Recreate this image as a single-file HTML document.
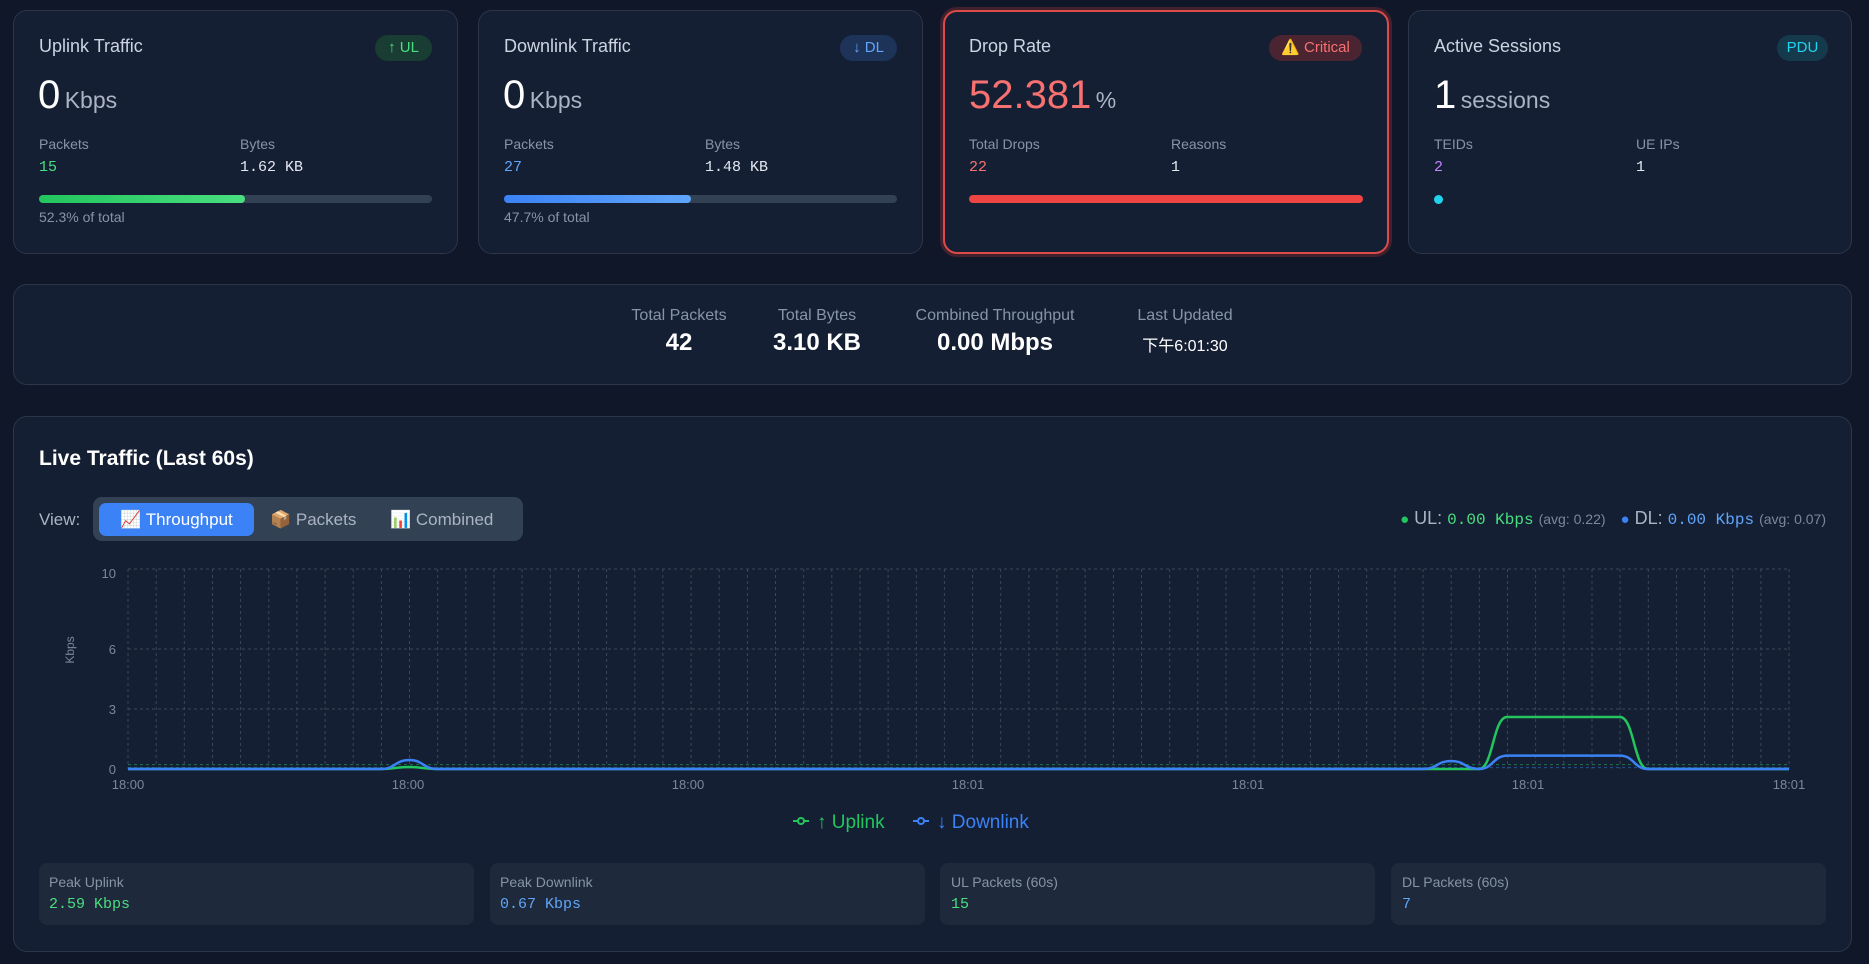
<!DOCTYPE html>
<html><head><meta charset="utf-8">
<style>
*{box-sizing:border-box;margin:0;padding:0}
body{width:1869px;height:964px;background:#0f1729;font-family:"Liberation Sans","Noto Sans CJK SC",sans-serif;color:#e2e8f0;position:relative;overflow:hidden}
.card{position:absolute;background:#151f33;border:1px solid #2b3649;border-radius:14px}
.abs{position:absolute;white-space:nowrap}
.t{font-size:18px;color:#cbd5e1}
.lbl{font-size:14px;color:#8794a8}
.mono{font-family:"Liberation Mono","DejaVu Sans Mono",monospace}
.pill{position:absolute;height:26px;border-radius:13px;font-size:15px;line-height:26px;text-align:center}
.big{font-size:40px;color:#fff;font-weight:500}
.unit{font-size:23px;color:#aab4c4}
.sb{position:absolute;top:863px;height:62px;width:435px;background:#1e293b;border-radius:8px}
</style></head><body>

<div class="card" style="left:13px;top:10px;width:445px;height:244px"></div>
<div class="abs t" style="left:39px;top:36px">Uplink Traffic</div>
<div class="pill" style="left:375px;top:35px;width:57px;background:#1a3d33;color:#4ade80">↑ UL</div>
<div class="abs" style="left:38px;top:73px"><span class="big">0</span> <span class="unit">Kbps</span></div>
<div class="abs lbl" style="left:39px;top:136px">Packets</div>
<div class="abs lbl" style="left:240px;top:136px">Bytes</div>
<div class="abs mono" style="left:39px;top:159px;font-size:15px;color:#4ade80">15</div>
<div class="abs mono" style="left:240px;top:159px;font-size:15px;color:#e2e8f0">1.62 KB</div>
<div class="abs" style="left:39px;top:195px;width:393px;height:8px;border-radius:4px;background:#334155"></div>
<div class="abs" style="left:39px;top:195px;width:206px;height:8px;border-radius:4px;background:linear-gradient(90deg,#22c55e,#4ade80)"></div>
<div class="abs lbl" style="left:39px;top:209px">52.3% of total</div>

<div class="card" style="left:478px;top:10px;width:445px;height:244px"></div>
<div class="abs t" style="left:504px;top:36px">Downlink Traffic</div>
<div class="pill" style="left:840px;top:35px;width:57px;background:#1e3358;color:#60a5fa">↓ DL</div>
<div class="abs" style="left:503px;top:73px"><span class="big">0</span> <span class="unit">Kbps</span></div>
<div class="abs lbl" style="left:504px;top:136px">Packets</div>
<div class="abs lbl" style="left:705px;top:136px">Bytes</div>
<div class="abs mono" style="left:504px;top:159px;font-size:15px;color:#60a5fa">27</div>
<div class="abs mono" style="left:705px;top:159px;font-size:15px;color:#e2e8f0">1.48 KB</div>
<div class="abs" style="left:504px;top:195px;width:393px;height:8px;border-radius:4px;background:#334155"></div>
<div class="abs" style="left:504px;top:195px;width:187px;height:8px;border-radius:4px;background:linear-gradient(90deg,#3b82f6,#60a5fa)"></div>
<div class="abs lbl" style="left:504px;top:209px">47.7% of total</div>

<div class="card" style="left:943px;top:10px;width:446px;height:244px;border:2px solid #dc4a4a;box-shadow:0 0 0 3px rgba(220,60,60,0.25)"></div>
<div class="abs t" style="left:969px;top:36px">Drop Rate</div>
<div class="pill" style="left:1269px;top:35px;width:93px;background:#4a2430;color:#f87171">⚠️ Critical</div>
<div class="abs" style="left:969px;top:73px"><span class="big" style="color:#f87171">52.381</span> <span class="unit">%</span></div>
<div class="abs lbl" style="left:969px;top:136px">Total Drops</div>
<div class="abs lbl" style="left:1171px;top:136px">Reasons</div>
<div class="abs mono" style="left:969px;top:159px;font-size:15px;color:#f87171">22</div>
<div class="abs mono" style="left:1171px;top:159px;font-size:15px;color:#e2e8f0">1</div>
<div class="abs" style="left:969px;top:195px;width:394px;height:8px;border-radius:4px;background:#ef4444"></div>

<div class="card" style="left:1408px;top:10px;width:444px;height:244px"></div>
<div class="abs t" style="left:1434px;top:36px">Active Sessions</div>
<div class="pill" style="left:1777px;top:35px;width:51px;background:#153a4c;color:#22d3ee">PDU</div>
<div class="abs" style="left:1434px;top:73px"><span class="big">1</span> <span class="unit">sessions</span></div>
<div class="abs lbl" style="left:1434px;top:136px">TEIDs</div>
<div class="abs lbl" style="left:1636px;top:136px">UE IPs</div>
<div class="abs mono" style="left:1434px;top:159px;font-size:15px;color:#c084fc">2</div>
<div class="abs mono" style="left:1636px;top:159px;font-size:15px;color:#e2e8f0">1</div>
<div class="abs" style="left:1434px;top:195px;width:9px;height:9px;border-radius:50%;background:#22d3ee"></div>

<div class="card" style="left:13px;top:284px;width:1839px;height:101px"></div>
<div class="abs" style="left:609px;top:307px;width:140px;text-align:center"><div style="font-size:16px;color:#8794a8">Total Packets</div><div style="font-size:24px;font-weight:bold;color:#fff;margin-top:4px">42</div></div>
<div class="abs" style="left:757px;top:307px;width:120px;text-align:center"><div style="font-size:16px;color:#8794a8">Total Bytes</div><div style="font-size:24px;font-weight:bold;color:#fff;margin-top:4px">3.10 KB</div></div>
<div class="abs" style="left:895px;top:307px;width:200px;text-align:center"><div style="font-size:16px;color:#8794a8">Combined Throughput</div><div style="font-size:24px;font-weight:bold;color:#fff;margin-top:4px">0.00 Mbps</div></div>
<div class="abs" style="left:1120px;top:307px;width:130px;text-align:center"><div style="font-size:16px;color:#8794a8">Last Updated</div><div style="font-size:16px;color:#fff;margin-top:7px">下午6:01:30</div></div>

<div class="card" style="left:13px;top:416px;width:1839px;height:536px"></div>
<div class="abs" style="left:39px;top:447px;font-size:21px;font-weight:bold;color:#fff">Live Traffic (Last 60s)</div>
<div class="abs" style="left:39px;top:510px;font-size:17px;color:#aab4c4">View:</div>
<div class="abs" style="left:93px;top:497px;width:430px;height:44px;border-radius:9px;background:#334155"></div>
<div class="abs" style="left:99px;top:503px;width:155px;height:33px;border-radius:7px;background:#3b82f6;color:#fff;font-size:17px;line-height:33px;text-align:center">📈 Throughput</div>
<div class="abs" style="left:270px;top:503px;font-size:17px;line-height:33px;color:#aab4c4">📦 Packets</div>
<div class="abs" style="left:390px;top:503px;font-size:17px;line-height:33px;color:#aab4c4">📊 Combined</div>

<div class="abs" style="right:43px;top:508px;font-size:18px;color:#aab4c4"><span style="color:#22c55e;font-size:15px">●</span> UL: <span class="mono" style="color:#4ade80;font-size:16px">0.00 Kbps</span> <span style="font-size:14px;color:#7b879a">(avg: 0.22)</span> &nbsp; <span style="color:#3b82f6;font-size:15px">●</span> DL: <span class="mono" style="color:#60a5fa;font-size:16px">0.00 Kbps</span> <span style="font-size:14px;color:#7b879a">(avg: 0.07)</span></div>

<svg class="abs" style="left:0;top:0" width="1869" height="964">
<g stroke="#3a475a" stroke-width="1" stroke-dasharray="3,3" fill="none">
<line x1="128" y1="569" x2="1789" y2="569"/>
<line x1="128" y1="649" x2="1789" y2="649"/>
<line x1="128" y1="709" x2="1789" y2="709"/>
</g>
<path id="vlines" stroke="#3a475a" stroke-dasharray="3,3" fill="none" d=""/>
<line x1="128" y1="764.6" x2="1789" y2="764.6" stroke="#22c55e" stroke-opacity="0.5" stroke-dasharray="3,3"/>
<line x1="128" y1="767.6" x2="1789" y2="767.6" stroke="#3b82f6" stroke-opacity="0.5" stroke-dasharray="3,3"/>
<g font-size="13" fill="#7b879a" font-family="Liberation Sans,sans-serif">
<text x="116" y="578" text-anchor="end">10</text>
<text x="116" y="654" text-anchor="end">6</text>
<text x="116" y="714" text-anchor="end">3</text>
<text x="116" y="774" text-anchor="end">0</text>
<text transform="translate(74,650) rotate(-90)" text-anchor="middle" font-size="12">Kbps</text>
<text x="128" y="789" text-anchor="middle">18:00</text>
<text x="408" y="789" text-anchor="middle">18:00</text>
<text x="688" y="789" text-anchor="middle">18:00</text>
<text x="968" y="789" text-anchor="middle">18:01</text>
<text x="1248" y="789" text-anchor="middle">18:01</text>
<text x="1528" y="789" text-anchor="middle">18:01</text>
<text x="1789" y="789" text-anchor="middle">18:01</text>
</g>
<path fill="none" stroke="#22c55e" stroke-width="2.5" d="M128,769 L381,769 C395,769 395,767 409.5,767 C423,767 423,769 437.7,769 L1479,769 C1493,769 1493,717 1507,717 L1620,717 C1634,717 1634,769 1648,769 L1789,769"/>
<path fill="none" stroke="#3b82f6" stroke-width="2.5" d="M128,769 L381.4,769 C395,769 395,760 409.5,760 C423,760 423,769 437.7,769 L1422.9,769 C1437,769 1437,761 1451,761 C1465,761 1465,769 1479.2,769 C1493,769 1493,755.6 1507.4,755.6 L1620,755.6 C1634,755.6 1634,769 1648,769 L1789,769"/>
<g font-size="19" font-family="Liberation Sans,sans-serif">
<line x1="793" y1="821" x2="809" y2="821" stroke="#22c55e" stroke-width="2"/><circle cx="801" cy="821" r="3" fill="#151f33" stroke="#22c55e" stroke-width="2"/>
<text x="817" y="828" fill="#22c55e">↑ Uplink</text>
<line x1="913" y1="821" x2="929" y2="821" stroke="#3b82f6" stroke-width="2"/><circle cx="921" cy="821" r="3" fill="#151f33" stroke="#3b82f6" stroke-width="2"/>
<text x="937" y="828" fill="#3b82f6">↓ Downlink</text>
</g>
</svg>
<script>
var d="";for(var i=0;i<60;i++){var x=128+i*28.153;d+="M"+x.toFixed(1)+",569V769";}
document.getElementById("vlines").setAttribute("d",d);
</script>

<div class="sb" style="left:39px"></div>
<div class="abs lbl" style="left:49px;top:874px">Peak Uplink</div>
<div class="abs mono" style="left:49px;top:896px;font-size:15px;color:#4ade80">2.59 Kbps</div>
<div class="sb" style="left:490px"></div>
<div class="abs lbl" style="left:500px;top:874px">Peak Downlink</div>
<div class="abs mono" style="left:500px;top:896px;font-size:15px;color:#60a5fa">0.67 Kbps</div>
<div class="sb" style="left:940px"></div>
<div class="abs lbl" style="left:951px;top:874px">UL Packets (60s)</div>
<div class="abs mono" style="left:951px;top:896px;font-size:15px;color:#4ade80">15</div>
<div class="sb" style="left:1391px"></div>
<div class="abs lbl" style="left:1402px;top:874px">DL Packets (60s)</div>
<div class="abs mono" style="left:1402px;top:896px;font-size:15px;color:#60a5fa">7</div>
</body></html>
